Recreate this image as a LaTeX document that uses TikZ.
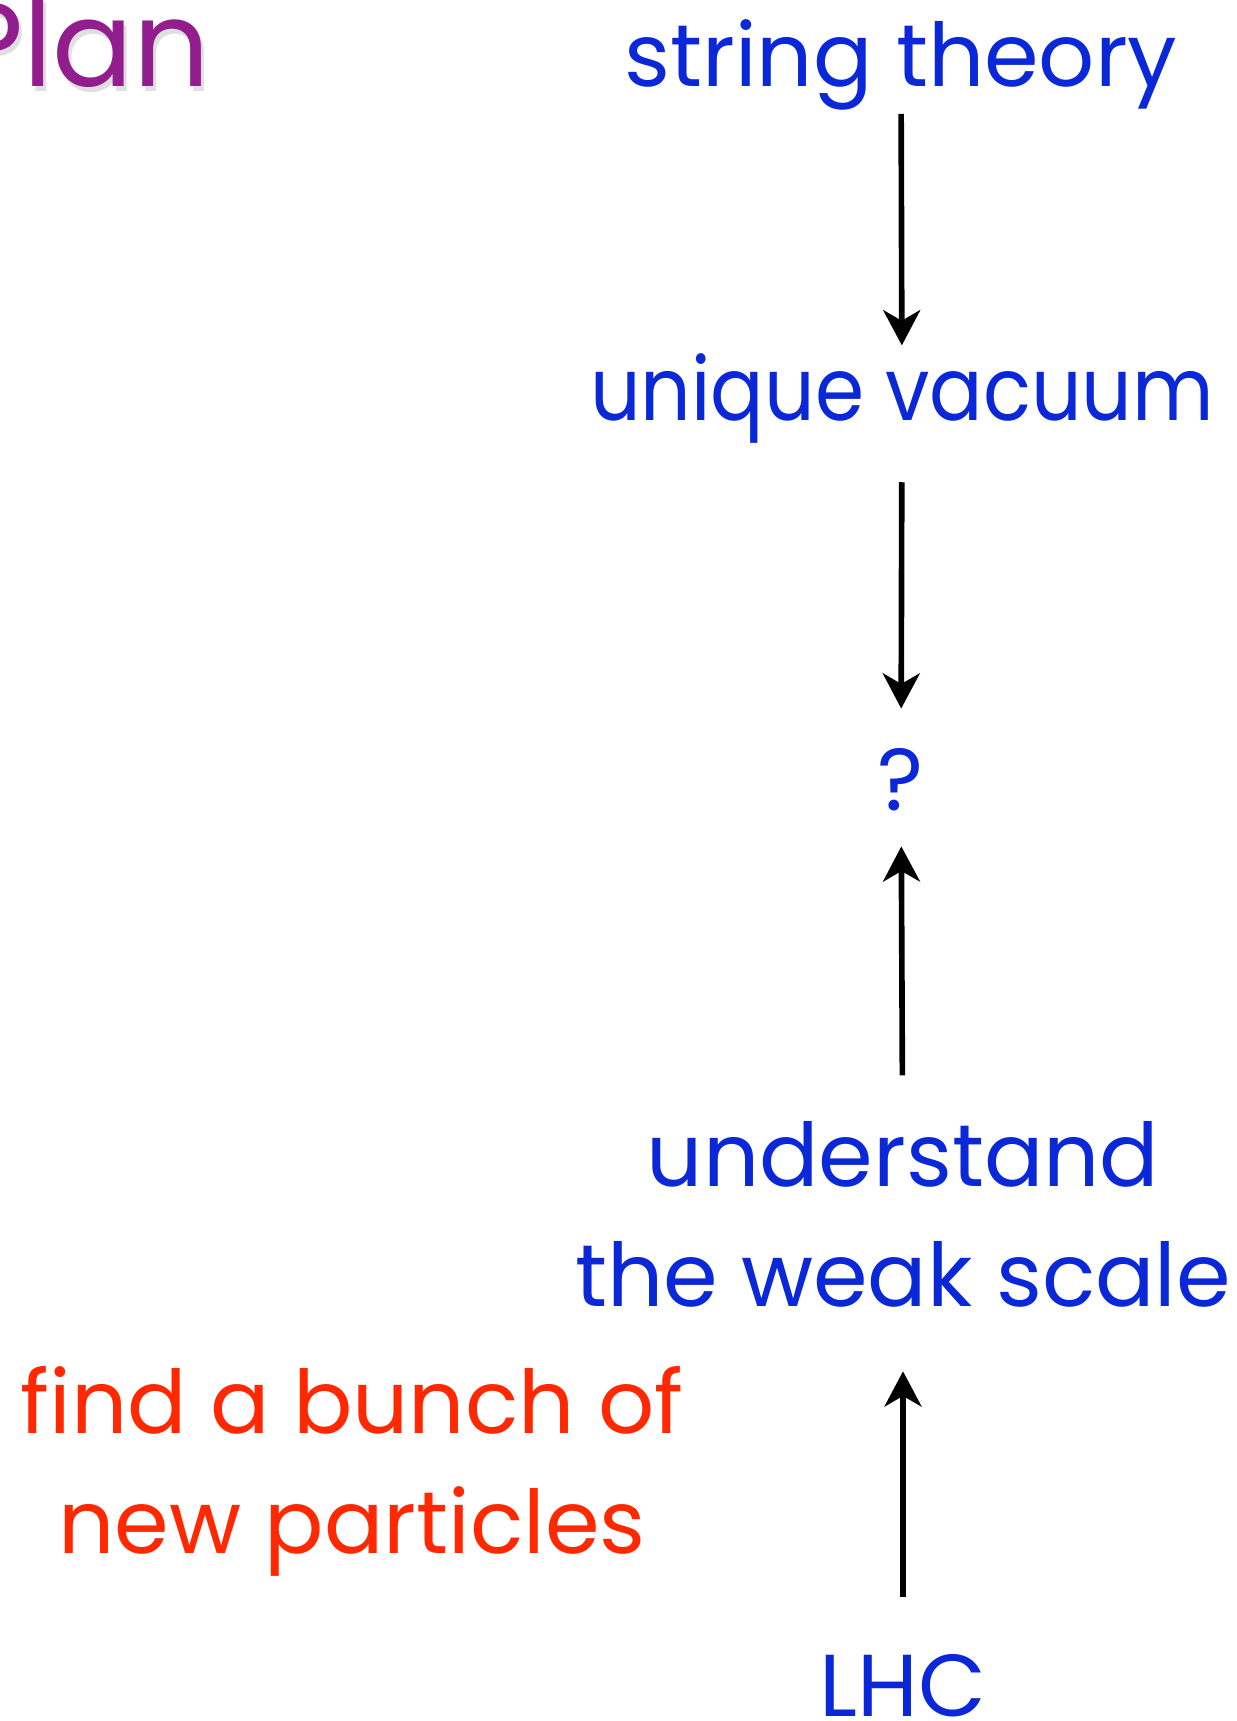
\documentclass[tikz,border=0pt]{standalone}
\usepackage{fontspec}
\setmainfont{Poppins}
\newfontfamily\narrowfont[FakeStretch=0.9]{Poppins}
\usetikzlibrary{arrows.meta}
\definecolor{planblue}{RGB}{10,40,215}
\definecolor{planred}{RGB}{255,40,0}
\definecolor{planpurple}{RGB}{145,30,140}
\begin{document}
\begin{tikzpicture}[x=0.01cm, y=-0.01cm,
        every node/.style={inner sep=0pt, font=\fontsize{25}{34}\selectfont},
        step label/.style={text=planblue, anchor=base, align=center},
        arr/.style={line width=1.6pt, -{Stealth[length=10pt, width=10.5pt, inset=3pt]}}]
    \useasboundingbox (0,0) rectangle (1236,1721);
    % title
    \node[anchor=base east, text=black!25, opacity=0.5, font=\fontsize{34}{40}\selectfont] at (214,91) {Plan};
    \node (plan) [anchor=base east, text=planpurple, font=\fontsize{34}{40}\selectfont] at (211,86) {Plan};
    % chain
    \node (st)  [step label] at (901,86)   {string theory};
    \node (uv)  [step label, font=\narrowfont\fontsize{25}{34}\selectfont] at (902,420)  {unique vacuum};
    \node (q)   [step label] at (901,810)  {?};
    \node (ws)  [step label, anchor=south] at (903,1308) {understand\\the weak scale};
    \node (lhc) [step label] at (903,1716) {LHC};
    \node (np)  [text=planred, align=center, anchor=south] at (352,1577) {find a bunch of\\new particles};
    \draw[arr, shorten <=1pt, shorten >=2pt] (st) -- (uv);
    \draw[arr, shorten <=11pt, shorten >=11pt] (uv) -- (q);
    \draw[arr, shorten <=13pt, shorten >=10pt] (ws) -- (q);
    \draw[arr, shorten <=16pt, shorten >=18pt] (lhc) -- (ws);
\end{tikzpicture}
\end{document}
